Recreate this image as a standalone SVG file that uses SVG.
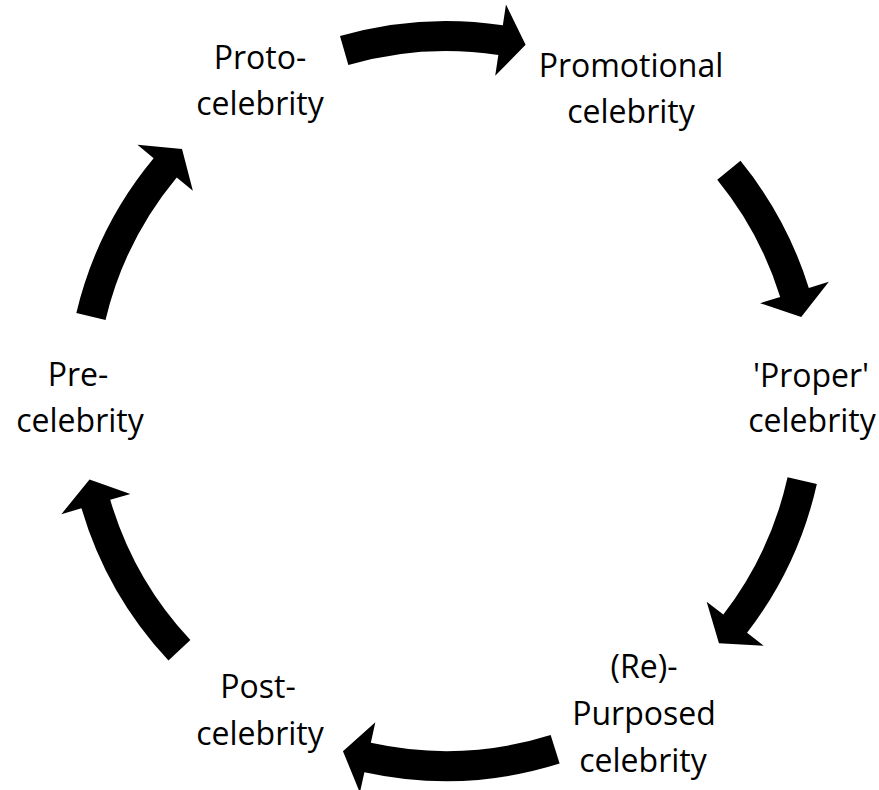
<svg xmlns="http://www.w3.org/2000/svg" width="879" height="790" viewBox="0 0 879 790">
<style>
.arrow{fill:#000;stroke:none}
text{font-family:"Open Sans","Noto Sans","Liberation Sans",sans-serif;font-size:32px;fill:#000;text-anchor:middle}
</style>
<rect width="879" height="790" fill="#fff"/>
<g id="connectors">
<path class="arrow" d="M339.98,36.09 A380,380 0 0 1 502.83,25.27 L505.97,4.51 L525.62,44.79 L495.20,75.70 L498.34,54.93 A350,350 0 0 0 348.35,64.90 Z"/>
<path class="arrow" d="M740.48,160.83 A380,380 0 0 1 808.81,288.00 L828.86,281.75 L801.21,317.03 L760.12,303.17 L780.17,296.92 A350,350 0 0 0 717.23,179.79 Z"/>
<path class="arrow" d="M816.85,483.89 A380,380 0 0 1 747.07,632.86 L763.71,645.67 L718.95,643.33 L706.66,601.74 L723.30,614.55 A350,350 0 0 0 787.57,477.35 Z"/>
<path class="arrow" d="M559.64,763.61 A380,380 0 0 1 364.40,772.13 L359.89,792.64 L342.95,751.15 L375.35,722.32 L370.84,742.83 A350,350 0 0 0 550.66,734.98 Z"/>
<path class="arrow" d="M168.46,660.56 A380,380 0 0 1 81.46,508.29 L61.32,514.22 L89.52,479.38 L130.39,493.89 L110.24,499.82 A350,350 0 0 0 190.37,640.07 Z"/>
<path class="arrow" d="M76.34,312.93 A380,380 0 0 1 153.63,158.27 L137.47,144.85 L182.02,148.92 L192.87,190.84 L176.71,177.43 A350,350 0 0 0 105.53,319.89 Z"/>
</g>
<g id="proto"><text x="260" y="69">Proto-</text><text x="260" y="115">celebrity</text></g>
<g id="promotional"><text x="631" y="77">Promotional</text><text x="631" y="123">celebrity</text></g>
<g id="proper"><text x="811" y="387">'Proper'</text><text x="812" y="432">celebrity</text></g>
<g id="repurposed"><text x="644" y="678">(Re)-</text><text x="644" y="725">Purposed</text><text x="643" y="772">celebrity</text></g>
<g id="post"><text x="258" y="698">Post-</text><text x="260" y="745">celebrity</text></g>
<g id="pre"><text x="78" y="386">Pre-</text><text x="80" y="432">celebrity</text></g>
</svg>
